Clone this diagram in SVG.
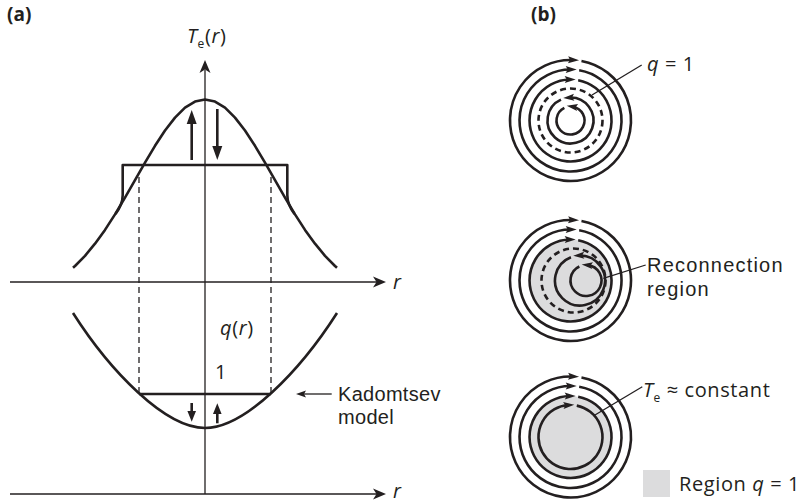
<svg xmlns="http://www.w3.org/2000/svg" width="801" height="504" viewBox="0 0 801 504">
<defs>
<style>
.c{fill:none;stroke:#231f20;stroke-width:2.6;stroke-linejoin:round}
.ax{fill:none;stroke:#231f20;stroke-width:1.3}
.dash{fill:none;stroke:#231f20;stroke-width:1.3;stroke-dasharray:6 4}
.ring{fill:none;stroke:#231f20;stroke-width:2.6}
.ringd{fill:none;stroke:#231f20;stroke-width:2.6;stroke-dasharray:6 4}
.ar{fill:none;stroke:#231f20;stroke-width:2.6;marker-end:url(#ah)}
.ptr{stroke:#231f20;stroke-width:1.3}
.hd{fill:#231f20}
.g{fill:#dcdcdd}
text{font-family:"Open Sans","Liberation Sans",sans-serif;font-size:20px;fill:#231f20;letter-spacing:0.6px}
.ml{font-family:"Liberation Sans","Open Sans",sans-serif}
.b{font-weight:bold;font-size:19px;letter-spacing:0}
.i{font-style:italic}
.sub{font-size:12px}
</style>
<marker id="ah" markerUnits="userSpaceOnUse" viewBox="0 0 11 7" markerWidth="11" markerHeight="7" refX="5" refY="3.5" orient="auto" overflow="visible">
<path d="M0,0 L11,3.5 L0,7 L2,3.5 Z" fill="#231f20"/>
</marker>
</defs>
<rect width="801" height="504" fill="#fff"/>

<g id="panel-a">
<text class="b" x="7" y="21">(a)</text>
<g id="axes">
<line class="ax" x1="205" y1="70" x2="205" y2="494"/>
<polygon class="hd" points="205,60 199.5,73 205,69.5 210.5,73"/>
<line class="ax" x1="10" y1="282" x2="378" y2="282"/>
<polygon class="hd" points="386,282 373,276.5 376.5,282 373,287.5"/>
<line class="ax" x1="10" y1="494" x2="378" y2="494"/>
<polygon class="hd" points="386,494 373,488.5 376.5,494 373,499.5"/>
<text x="187" y="43"><tspan class="i">T</tspan><tspan class="sub" dy="5">e</tspan><tspan dy="-5">(</tspan><tspan class="i">r</tspan><tspan>)</tspan></text>
<text class="i" x="393" y="289">r</text>
<text class="i" x="393" y="498">r</text>
</g>
<g id="te-profile">
<path class="c" d="M73,267.8 L75,266 L85,255.8 L95,243.7 L105,229.9 L115,214.4 L125,197.6 L135,180.1 L145,162.6 L155,145.8 L165,130.5 L175,117.6 L185,107.7 L195,101.6 L205,99.5 L215,101.6 L225,107.7 L235,117.6 L245,130.5 L255,145.8 L265,162.6 L275,180.1 L285,197.6 L295,214.4 L305,229.9 L315,243.7 L325,255.8 L335,266 L337,267.8"/>
<path class="c" d="M115.5,214 C120,208 122.7,203 122.7,195 L122.7,165 L287.3,165 L287.3,195 C287.3,203 290,208 294.5,214"/>
<line class="c" x1="191.7" y1="160" x2="191.7" y2="121"/>
<polygon class="hd" points="191.7,110 186.7,124 196.7,124"/>
<line class="c" x1="217.3" y1="109" x2="217.3" y2="148"/>
<polygon class="hd" points="217.3,160 212.3,146 222.3,146"/>
</g>
<g id="guides">
<line class="dash" x1="139" y1="177" x2="139" y2="393"/>
<line class="dash" x1="271" y1="177" x2="271" y2="393"/>
</g>
<g id="q-profile">
<path class="c" d="M73,313 C110,371 165,428 205,428 C245,428 300,371 337,313"/>
<line class="c" x1="139" y1="394" x2="271" y2="394"/>
<line class="c" x1="191.7" y1="403" x2="191.7" y2="413"/>
<polygon class="hd" points="191.7,421.7 187.4,411 196,411"/>
<line class="c" x1="217.3" y1="423.3" x2="217.3" y2="412"/>
<polygon class="hd" points="217.3,403.3 213,414 221.6,414"/>
<text x="220" y="335"><tspan class="i">q</tspan>(<tspan class="i">r</tspan>)</text>
<text x="215" y="379">1</text>
</g>
<g id="kadomtsev-label">
<line class="ptr" x1="331.7" y1="394" x2="303" y2="394"/>
<polygon class="hd" points="296,394 306,390.5 304,394 306,397.5"/>
<text class="ml" x="338" y="401" style="letter-spacing:0.3px">Kadomtsev<tspan x="338" dy="23">model</tspan></text>
</g>
</g>

<g id="panel-b">
<text class="b" x="531" y="21">(b)</text>

<g id="surfaces-before">
<path class="ar" d="M581.47,61 A60.5,60.5 0 1 1 573.03,60.05"/>
<path class="ar" d="M579.17,70.24 A51,51 0 1 1 570.72,69.5"/>
<path class="ar" d="M578.17,80.22 A41,41 0 1 1 569.71,79.51"/>
<circle class="ringd" cx="570.5" cy="120.5" r="32"/>
<path class="ar" d="M560.97,99.57 A23,23 0 1 0 569.18,97.54"/>
<path class="ar" d="M564.37,107.92 A14,14 0 1 0 572.64,106.67"/>
<line class="ptr" x1="641.7" y1="65" x2="592" y2="95"/>
<text x="647" y="71"><tspan class="i">q</tspan> = 1</text>
</g>

<g id="surfaces-reconnection">
<circle class="g" cx="570.5" cy="280.5" r="41"/>
<path class="ar" d="M581.47,221 A60.5,60.5 0 1 1 573.03,220.05"/>
<path class="ar" d="M579.17,230.24 A51,51 0 1 1 570.72,229.5"/>
<path class="ar" d="M578.17,240.22 A41,41 0 1 1 569.71,239.51"/>
<circle class="ringd" cx="573.5" cy="280.5" r="32"/>
<path class="ar" d="M570.93,257.2 A25,25 0 1 0 579.22,255.51"/>
<path class="ar" d="M579.36,266.49 A15.5,15.5 0 1 0 587.64,265.09"/>
<line class="ptr" x1="645.7" y1="265" x2="603.3" y2="278.3"/>
<text class="ml" x="647" y="272" style="letter-spacing:1.2px">Reconnection<tspan x="647" dy="24">region</tspan></text>
</g>

<g id="surfaces-after">
<circle class="g" cx="570.5" cy="437" r="41"/>
<path class="ar" d="M581.47,377.5 A60.5,60.5 0 1 1 573.03,376.55"/>
<path class="ar" d="M579.17,386.74 A51,51 0 1 1 570.72,386"/>
<path class="ar" d="M578.17,396.72 A41,41 0 1 1 569.71,396.01"/>
<path class="ar" d="M576.77,405.62 A32,32 0 1 1 568.31,405.07"/>
<line class="ptr" x1="642.3" y1="386.7" x2="593.3" y2="416"/>
<text x="643" y="397"><tspan class="i">T</tspan><tspan class="sub" dy="5">e</tspan><tspan dy="-5"> ≈ constant</tspan></text>
</g>

<g id="legend">
<rect class="g" x="643" y="470" width="27" height="27"/>
<text x="679" y="491">Region <tspan class="i">q</tspan> = 1</text>
</g>
</g>
</svg>
